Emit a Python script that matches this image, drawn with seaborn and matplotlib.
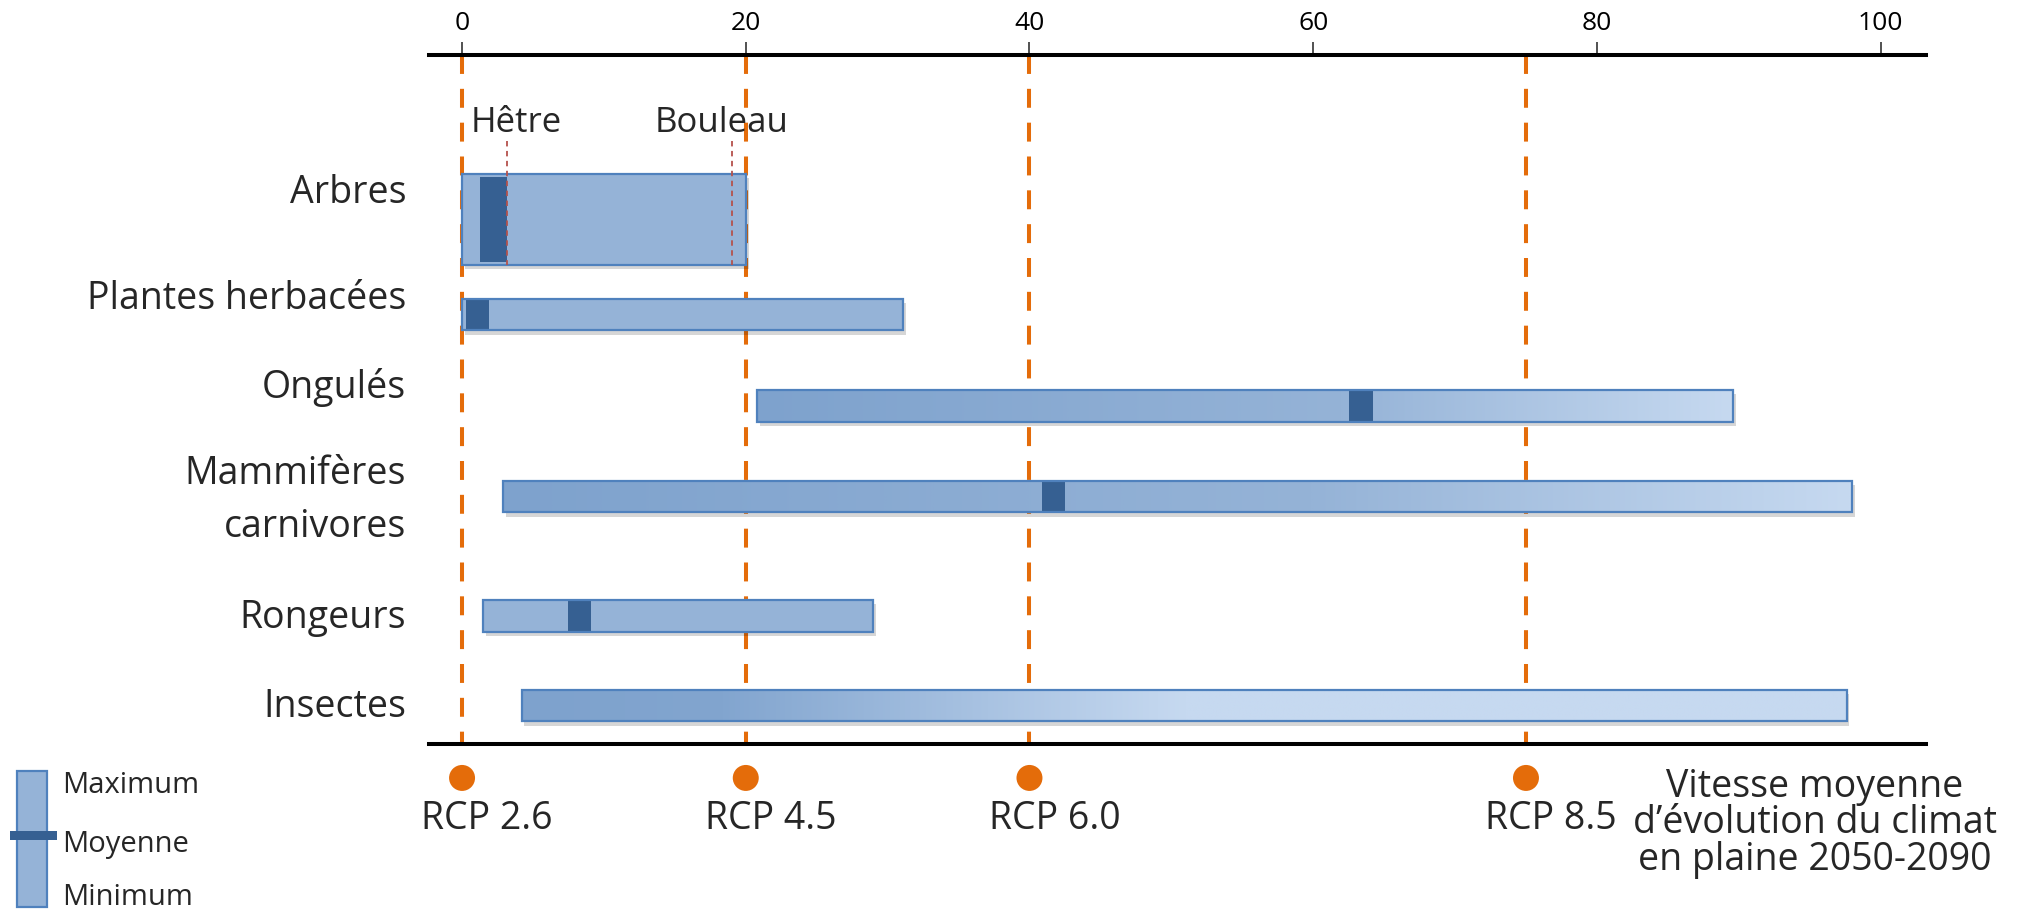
import numpy as np
import matplotlib
matplotlib.use("Agg")
import matplotlib.pyplot as plt
import seaborn as sns
from matplotlib.colors import LinearSegmentedColormap
from matplotlib import patheffects as pe
from matplotlib.patches import Rectangle

# ---------------- data ----------------
categories = ["Arbres", "Plantes herbacées", "Ongulés", "Mammifères\ncarnivores", "Rongeurs", "Insectes"]
minimum = [0.0, 0.0, 20.8, 2.9, 1.5, 4.2]
maximum = [20.0, 31.1, 89.6, 98.0, 29.0, 97.6]
moyenne = [2.25, 1.1, 63.4, 41.7, 8.3, None]
species_names = ["Hêtre", "Bouleau"]
species_values = [3.2, 19.0]
rcp_labels = ["RCP 2.6", "RCP 4.5", "RCP 6.0", "RCP 8.5"]
rcp_values = [0, 20, 40, 75]
x_ticks = [0, 20, 40, 60, 80, 100]
x_ticklabels = ["0", "20", "40", "60", "80", "100"]
legend_labels = ["Maximum", "Moyenne", "Minimum"]
axis_title = "Vitesse moyenne\nd’évolution du climat\nen plaine 2050-2090"

# ---------------- layout / style ----------------
row_pos = [0.0, 1.044, 2.049, 3.044, 4.357, 5.341]
row_h = [1.0, 0.35, 0.35, 0.35, 0.35, 0.35]
label_y = [-0.181, 0.984, 1.962, 2.907, 4.489, 5.467]   # baseline of first line
LABEL_STEP = 0.582                                        # line step for wrapped labels
mean_w = [1.9, 1.6, 1.7, 1.6, 1.6, 0]
Y_TOP, Y_BOT = -1.808, 5.764
X_MIN, X_MAX = -2.33, 103.2
DOT_Y, RCP_Y, SPEC_Y = 6.137, 6.698, -0.962

FLAT = "#95b3d7"
EDGE = "#4f81bd"
MEAN = "#366092"
DARK = "#7ea2cd"
LIGHT = "#c6d9f0"
ORANGE = "#e46c0a"
grad_a = [(0.0, DARK), (0.6, FLAT), (1.0, LIGHT)]
grad_b = [(0.0, DARK), (0.15, "#82a5cf"), (0.5, LIGHT), (1.0, LIGHT)]
gradients = [None, None, grad_a, grad_a, None, grad_b]

sns.set_style("white")
plt.rcParams["font.family"] = ["Open Sans", "DejaVu Sans"]

W, H = 2021, 910
fig = plt.figure(figsize=(W / 100, H / 100), dpi=100)
ax = fig.add_axes([429 / W, 1 - 744 / H, (1926 - 429) / W, (744 - 55) / H])

shadow = [pe.SimplePatchShadow(offset=(2, -3), shadow_rgbFace="#000000", alpha=0.16), pe.Normal()]

# RCP dashed lines (behind bars)
ax.vlines(rcp_values, Y_TOP, Y_BOT, colors=ORANGE, linewidth=2.9,
          linestyles=[(0, (4.7, 3.7))], zorder=1)

for i in range(len(categories)):
    y, h = row_pos[i], row_h[i]
    left, w = minimum[i], maximum[i] - minimum[i]
    face = FLAT if gradients[i] is None else "white"
    base = ax.barh(y, w, left=left, height=h, color=face, edgecolor="none", zorder=2)[0]
    base.set_path_effects(shadow)
    if gradients[i] is not None:
        cmap = LinearSegmentedColormap.from_list(f"g{i}", gradients[i])
        im = ax.imshow(np.linspace(0, 1, 512)[None, :], extent=(left, left + w, y + h / 2, y - h / 2),
                       aspect="auto", cmap=cmap, zorder=2.1, interpolation="bilinear")
        im.set_clip_path(base)
    if moyenne[i] is not None:
        ax.barh(y, mean_w[i], left=moyenne[i] - mean_w[i] / 2, height=h * 0.94,
                color=MEAN, edgecolor="none", zorder=2.3)
    ax.barh(y, w, left=left, height=h, facecolor="none", edgecolor=EDGE, linewidth=1.6, zorder=2.5)

# category labels (wrapped ones drawn line by line)
for i, lab in enumerate(categories):
    for k, line in enumerate(lab.split("\n")):
        ax.annotate(line, xy=(0, label_y[i] + k * LABEL_STEP), xycoords=("axes fraction", "data"),
                    xytext=(-16.5, 0), textcoords="offset points", ha="right", va="baseline",
                    fontsize=27, annotation_clip=False)

# species markers (Hêtre / Bouleau)
ax.vlines(species_values, -0.863, 0.5, colors="#b5524c", linewidth=1.3,
          linestyles=[(0, (3, 2.5))], zorder=3)
for name, val, dx in zip(species_names, species_values, [6, -7.5]):
    ax.annotate(name, xy=(val, SPEC_Y), xytext=(dx, 0), textcoords="offset points",
                ha="center", va="baseline", fontsize=25, annotation_clip=False)

# RCP dots and labels
sns.scatterplot(x=rcp_values, y=[DOT_Y] * len(rcp_values), color=ORANGE, s=350,
                edgecolor="none", clip_on=False, legend=False, zorder=5, ax=ax)
for lab, val in zip(rcp_labels, rcp_values):
    ax.annotate(lab, xy=(val, RCP_Y), xytext=(18, 0), textcoords="offset points",
                ha="center", va="baseline", fontsize=27, annotation_clip=False)

# axes styling
ax.set_xlim(X_MIN, X_MAX)
ax.set_ylim(Y_BOT, Y_TOP)
ax.set_xticks(x_ticks)
ax.set_xticklabels(x_ticklabels)
ax.set_yticks([])
ax.xaxis.tick_top()
ax.tick_params(axis="x", top=True, bottom=False, labeltop=True, labelbottom=False,
               direction="out", length=9.5, width=1.2, color="#333333", pad=4,
               labelsize=19, labelcolor="black")
for s in ["left", "right"]:
    ax.spines[s].set_visible(False)
for s in ["top", "bottom"]:
    ax.spines[s].set_visible(True)
    ax.spines[s].set_color("black")
    ax.spines[s].set_linewidth(2.9)
    ax.spines[s].set_zorder(4)
    ax.spines[s].set_path_effects([pe.SimplePatchShadow(offset=(0, -2), shadow_rgbFace="#000000", alpha=0.2), pe.Normal()])
ax.set_facecolor("white")
ax.grid(False)

# axis title (line by line)
for line, yb in zip(axis_title.split("\n"), [797, 833, 870]):
    fig.text(1815 / W, 1 - yb / H, line, ha="center", va="baseline", fontsize=27)

# legend (bottom-left)
fig.add_artist(Rectangle((16.5 / W, 1 - 907 / H), 30.2 / W, 136 / H, transform=fig.transFigure,
                         facecolor=FLAT, edgecolor=EDGE, linewidth=1.6))
fig.add_artist(Rectangle((10 / W, 1 - 840 / H), 47 / W, 9 / H, transform=fig.transFigure,
                         facecolor=MEAN, edgecolor="none"))
for lab, yb in zip(legend_labels, [793, 852, 905]):
    fig.text(62 / W, 1 - yb / H, lab, ha="left", va="baseline", fontsize=21)

fig.savefig("out.png", dpi=100, facecolor="white")
